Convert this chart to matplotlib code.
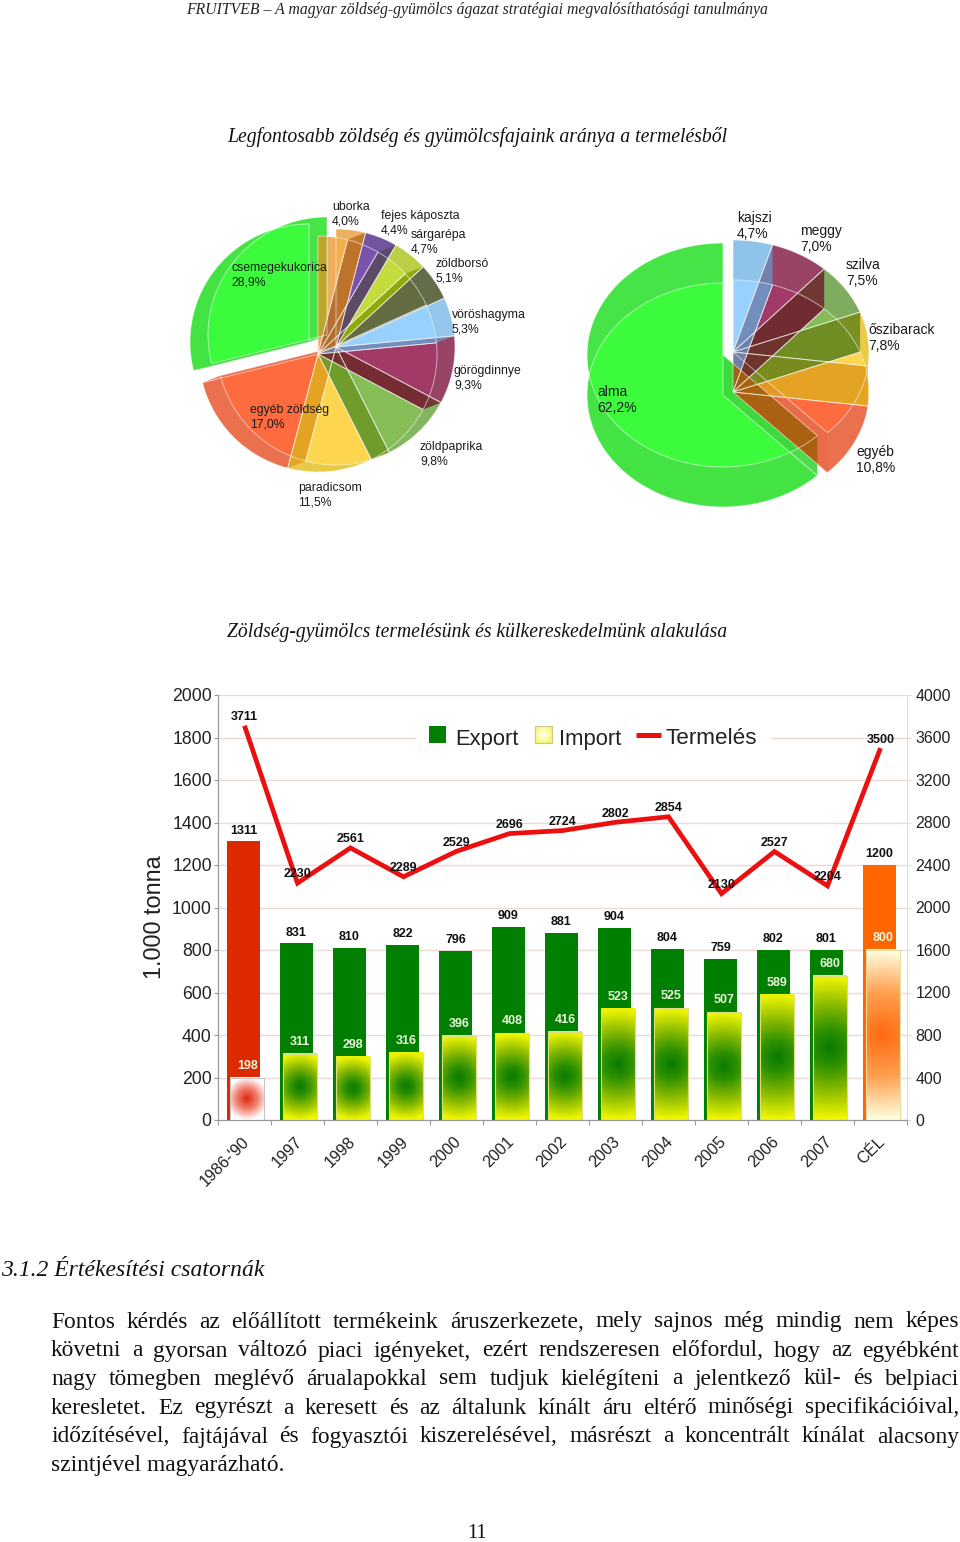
import numpy as np
import matplotlib
matplotlib.use("Agg")
import matplotlib.pyplot as plt
from matplotlib.colors import LinearSegmentedColormap
from matplotlib.patches import Polygon, Rectangle
from matplotlib.transforms import ScaledTranslation

# Pie data
veg_names = ["uborka", "fejes káposzta", "sárgarépa", "zöldborsó", "vöröshagyma", "görögdinnye",
             "zöldpaprika", "paradicsom", "egyéb zöldség", "csemegekukorica"]
veg_shares = [4.0, 4.4, 4.7, 5.1, 5.3, 9.3, 9.8, 11.5, 17.0, 28.9]
fruit_names = ["kajszi", "meggy", "szilva", "őszibarack", "egyéb", "alma"]
fruit_shares = [4.7, 7.0, 7.5, 7.8, 10.8, 62.2]

# Bar chart data
years = ["1986-'90", "1997", "1998", "1999", "2000", "2001", "2002", "2003", "2004", "2005", "2006", "2007", "CÉL"]
export = [1311, 831, 810, 822, 796, 909, 881, 904, 804, 759, 802, 801, 1200]
imports = [198, 311, 298, 316, 396, 408, 416, 523, 525, 507, 589, 680, 800]
production = [3711, 2230, 2561, 2289, 2529, 2696, 2724, 2802, 2854, 2130, 2527, 2204, 3500]

# Pie styles: rim colour, inner colour, wall colour
veg_rim = ["#E89020", "#6B4C9A", "#B9CC3C", "#5C6540", "#8FC3EA", "#943A5E", "#7CB257", "#E8C940", "#EA6B48", "#3DE33D"]
veg_face = ["#F5B04C", "#7A55AD", "#C4DC3C", "#646E42", "#99D2FF", "#A23A68", "#86BE58", "#FFD64F", "#FF6B3F", "#3CFD3C"]
veg_wall = ["#BE7228", "#5A4A62", "#8CA500", "#3F5040", "#7088B8", "#722B2E", "#6F9A28", "#E5A020", "#EA6B48", "#3CE03C"]
fruit_rim = ["#8FC3EA", "#943A5E", "#78A957", "#E8C940", "#EA6B48", "#3DE33D"]
fruit_face = ["#99D2FF", "#A23A68", "#86BE58", "#FFD64F", "#FF6B3F", "#3CFD3C"]
fruit_wall = ["#7088B8", "#6E2B2E", "#6E8A1E", "#E5A020", "#EA6B48", "#3CD83C"]

veg_labels_xy = [(332, 207), (381, 216), (411, 235), (436, 264), (452, 315), (454, 371), (420, 447), (298, 488), (250, 410), (231, 268)]
fruit_labels_xy = [(737, 218), (800, 231), (846, 265), (868, 330), (856, 452), (597, 392)]

paragraph = [
    "Fontos kérdés az előállított termékeink áruszerkezete, mely sajnos még mindig nem képes",
    "követni a gyorsan változó piaci igényeket, ezért rendszeresen előfordul, hogy az egyébként",
    "nagy tömegben meglévő árualapokkal sem tudjuk kielégíteni a jelentkező kül- és belpiaci",
    "keresletet. Ez egyrészt a keresett és az általunk kínált áru eltérő minőségi specifikációival,",
    "időzítésével, fajtájával és fogyasztói kiszerelésével, másrészt a koncentrált kínálat alacsony",
]
last_line = "szintjével magyarázható."

W, H = 960, 1542
SANS = "Liberation Sans"
SERIF = "Liberation Serif"

fig = plt.figure(figsize=(W / 100, H / 100), dpi=100, facecolor="white")

# Chart axes
ax = fig.add_axes([218 / W, (H - 1120) / H, 689 / W, 425 / H])
ax2 = ax.twinx()

# Overlay in pixel coordinates for the page text, pies and legend
page = fig.add_axes([0, 0, 1, 1], zorder=5)
page.set_xlim(0, W)
page.set_ylim(H, 0)
page.axis("off")
page.patch.set_alpha(0)
page.set_autoscale_on(False)


def wedge_xy(cx, cy, rx, ry, a0, a1):
    t = np.radians(np.linspace(a0, a1, 60))
    xs = np.r_[cx, cx + rx * np.sin(t)]
    ys = np.r_[cy, cy - ry * np.cos(t)]
    return np.column_stack([xs, ys])


def wall_xy(cx, cy, rx, ry, angle, dx, dy):
    t = np.radians(angle)
    rim_x, rim_y = cx + rx * np.sin(t), cy - ry * np.cos(t)
    return [(cx, cy), (rim_x, rim_y), (rim_x + dx, rim_y + dy), (cx + dx, cy + dy)]


def draw_pie(shares, rim, face, wall, cx, cy, rx, ry, dx, dy, explode_last, first_alpha, overlap_color):
    edges = np.r_[0, np.cumsum(shares)] / sum(shares) * 360
    n = len(shares)
    centers = [(cx, cy)] * (n - 1) + [(cx + explode_last[0], cy + explode_last[1])]
    # Last wedge first so the others sit on top of it
    for i in range(n - 1, -1, -1):
        x, y = centers[i]
        upper = wedge_xy(x, y, rx, ry, edges[i], edges[i + 1])
        lower = wedge_xy(x + dx, y + dy, rx, ry, edges[i], edges[i + 1])
        page.add_patch(Polygon(lower, fc=rim[i], ec="none", alpha=first_alpha if i == 0 else 0.97))
        top = Polygon(upper, fc=rim[i], ec="none", alpha=first_alpha if i == 0 else 0.95)
        page.add_patch(top)
        inner = Polygon(lower, fc=face[i], ec="none", alpha=0.95)
        page.add_patch(inner)
        inner.set_clip_path(top)
    # See-through walls on the clockwise edge of each wedge
    ex, ey = centers[-1]
    cut_wall = Polygon(wall_xy(ex, ey, rx, ry, edges[-2], dx, dy), fc=wall[-1], ec="none", alpha=0.9)
    page.add_patch(cut_wall)
    for i in range(n - 2, -1, -1):
        x, y = centers[i]
        page.add_patch(Polygon(wall_xy(x, y, rx, ry, edges[i + 1], dx, dy), fc=wall[i], ec="none", alpha=0.9))
    # Where the last wall crosses the exploded wedge's cut face the colours mix
    mix = Polygon(wall_xy(cx, cy, rx, ry, edges[-2], dx, dy), fc=overlap_color, ec="none", alpha=0.95)
    page.add_patch(mix)
    mix.set_clip_path(cut_wall)
    # Thin light outlines of both layers
    for i in range(n):
        x, y = centers[i]
        for ox, oy in [(0, 0), (dx, dy)]:
            outline = wedge_xy(x + ox, y + oy, rx, ry, edges[i], edges[i + 1])
            page.add_patch(Polygon(outline, fc="none", ec="white", lw=0.7, alpha=0.55))


def pie_labels(names, shares, xys, size):
    for name, share, (x, y) in zip(names, shares, xys):
        pct = f"{share:.1f}".replace(".", ",") + "%"
        gap = size * 1.6
        page.text(x, y, name, family=SANS, fontsize=size, ha="left", va="center", color="#1a1a1a")
        page.text(x, y + gap, pct, family=SANS, fontsize=size, ha="left", va="center", color="#1a1a1a")


draw_pie(veg_shares, veg_rim, veg_face, veg_wall, 336, 347, 119, 118, -18, 7, (-9, -12), 0.72, "#E66A40")
draw_pie(fruit_shares, fruit_rim, fruit_face, fruit_wall, 733, 352, 136, 112, 0, 40, (-10, 3), 1.0, "#A8600F")
pie_labels(veg_names, veg_shares, veg_labels_xy, 8.8)
pie_labels(fruit_names, fruit_shares, fruit_labels_xy, 10)

# Bars
x = np.arange(len(years))
bar_w = 0.63
export_colors = ["#DC2900"] + ["#007F00"] * 11 + ["#FF6600"]
ax.bar(x - 0.02, export, bar_w, color=export_colors, zorder=2)
import_bars = ax.bar(x + 0.05, imports, bar_w, facecolor="none", edgecolor="#DCDC80", linewidth=0.8, zorder=4)

# Radial gradients inside the import bars
green_map = LinearSegmentedColormap.from_list(
    "g", [(0, "#0A7A00"), (0.25, "#2C9000"), (0.55, "#7DB300"), (1, "#F2F700")])
red_map = LinearSegmentedColormap.from_list("r", ["#E02810", "#F08070", "#FFFFFF"])
orange_map = LinearSegmentedColormap.from_list("o", ["#FF6A10", "#FFA050", "#FFFFE0"])
gradient_maps = [red_map] + [green_map] * 11 + [orange_map]
px_per_unit = 425 / 2000
for bar, cmap in zip(import_bars, gradient_maps):
    h_px = bar.get_height() * px_per_unit
    w_px = bar.get_width() * 53
    gx, gy = np.meshgrid(np.linspace(-w_px / 2, w_px / 2, 40), np.linspace(-h_px / 2, h_px / 2, 120))
    radial = np.clip(np.hypot(gx, gy) / (h_px / 2), 0, 1)
    ax.imshow(radial, cmap=cmap, vmin=0, vmax=1, aspect="auto", zorder=3,
              extent=(bar.get_x(), bar.get_x() + bar.get_width(), 0, bar.get_height()))
import_bars[0].set_edgecolor("#C4C4C4")
import_bars[-1].set_edgecolor("#E4DFA0")

for xi, v in zip(x - 0.02, export):
    ax.annotate(str(v), (xi, v), xytext=(0, 7.8), textcoords="offset points", ha="center", va="center",
                family=SANS, fontsize=9, fontweight="bold", color="#111111", zorder=6)
for xi, v in zip(x + 0.05, imports):
    ax.annotate(str(v), (xi, v), xytext=(0, 8.6), textcoords="offset points", ha="center", va="center",
                family=SANS, fontsize=9, fontweight="bold", color="#EAF6DC", zorder=6)

# Production line on the right hand scale
ax2.plot(x, production, color="#EC0F0F", lw=3.4, solid_capstyle="butt", solid_joinstyle="miter", zorder=4)
for xi, v in zip(x, production):
    ax2.annotate(str(v), (xi, v), xytext=(0, 6.2), textcoords="offset points", ha="center", va="center",
                 family=SANS, fontsize=9, fontweight="bold", color="#111111", zorder=6)

# Axes
ax.set_xlim(-0.5, len(years) - 0.5)
ax.set_ylim(0, 2000)
ax2.set_ylim(0, 4000)
ax.set_yticks(range(0, 2001, 200))
ax2.set_yticks(range(0, 4001, 400))
ax.grid(axis="y", color="#E9DAD3", lw=1, zorder=0)
ax.set_axisbelow(True)
ax.set_xticks(x)
ax.set_xticklabels(years, rotation=45, ha="right", rotation_mode="anchor", family=SANS, fontsize=11.7, color="#222222")
ax.set_xticks(np.arange(-0.5, len(years)), minor=True)
ax.tick_params(axis="x", which="major", length=0, pad=10)
ax.tick_params(axis="x", which="minor", length=3.5, color="#999999", width=0.8)
ax.tick_params(axis="y", length=3, color="#999999", width=0.8, pad=1.5, labelsize=12.7, labelcolor="#222222")
ax2.tick_params(axis="y", length=3, color="#E0E0D8", width=0.8, pad=3, labelsize=11.4, labelcolor="#222222")
shift_left = ScaledTranslation(-3 / 100, 0, fig.dpi_scale_trans)
for label in ax.get_xticklabels():
    label.set_transform(label.get_transform() + shift_left)
for label in ax.get_yticklabels() + ax2.get_yticklabels():
    label.set_family(SANS)
for a in (ax, ax2):
    a.spines["top"].set_visible(False)
    a.spines["left"].set_color("#999999")
    a.spines["bottom"].set_color("#999999")
    a.spines["right"].set_color("#E0E0D8")
ax.set_ylabel("1.000 tonna", family=SANS, fontsize=16.9, color="#222222")
ax.yaxis.set_label_coords((166 - 218) / 689, 0.478)

# Legend drawn by hand: the swatches and the line key have different widths
page.add_patch(Rectangle((416, 724), 356, 26, fc="white", ec="none"))
page.add_patch(Rectangle((429, 726), 17, 17, fc="#007F00", ec="none"))
swatch = np.hypot(*np.meshgrid(np.linspace(-1, 1, 30), np.linspace(-1, 1, 30)))
swatch_map = LinearSegmentedColormap.from_list("s", ["#FFFFFF", "#FFFFB0", "#F4F460"])
page.imshow(swatch, cmap=swatch_map, vmin=0, vmax=1.2, extent=(535, 552, 743, 726), aspect="auto", zorder=2)
page.add_patch(Rectangle((535, 726), 17, 17, fc="none", ec="#C8C890", lw=0.8, zorder=3))
page.set_xlim(0, W)
page.set_ylim(H, 0)
page.plot([636, 661], [735, 735], color="#EC0F0F", lw=3.6, solid_capstyle="butt")
for lx, label, size in [(455, "Export", 15.8), (559, "Import", 15.8), (666, "Termelés", 16.2)]:
    page.text(lx, 739, label, family=SANS, fontsize=size, ha="left", va="center", color="#222222")

# Page text
page.text(477, 10, "FRUITVEB – A magyar zöldség-gyümölcs ágazat stratégiai megvalósíthatósági tanulmánya",
          family=SERIF, style="italic", fontsize=11.35, ha="center", va="center", color="#222222")
page.text(227, 137, "Legfontosabb zöldség és gyümölcsfajaink aránya a termelésből",
          family=SERIF, style="italic", fontsize=14.2, ha="left", va="center", color="#111111")
page.text(227, 632, "Zöldség-gyümölcs termelésünk és külkereskedelmünk alakulása",
          family=SERIF, style="italic", fontsize=14.15, ha="left", va="center", color="#111111")
page.text(1, 1270, "3.1.2 Értékesítési csatornák", family=SERIF, style="italic", fontsize=17, ha="left", va="center", color="#111111")
page.text(477, 1534, "11", family=SERIF, fontsize=14.5, ha="center", va="center", color="#111111")

# Justified paragraph, word by word
renderer = fig.canvas.get_renderer()
PARA_SIZE = 16.9
LEFT, RIGHT = 51, 959
line_y = [1322, 1351, 1379, 1408, 1437]
for line, y in zip(paragraph, line_y):
    words = line.split()
    texts = [page.text(LEFT, y, w, family=SERIF, fontsize=PARA_SIZE, ha="left", va="center", color="#111111") for w in words]
    widths = [t.get_window_extent(renderer).width for t in texts]
    space = (RIGHT - LEFT - sum(widths)) / (len(words) - 1)
    pos = LEFT
    for t, w in zip(texts, widths):
        t.set_x(pos)
        pos += w + space
page.text(LEFT, 1466, last_line, family=SERIF, fontsize=PARA_SIZE, ha="left", va="center", color="#111111")

fig.savefig("out.png", dpi=100)
